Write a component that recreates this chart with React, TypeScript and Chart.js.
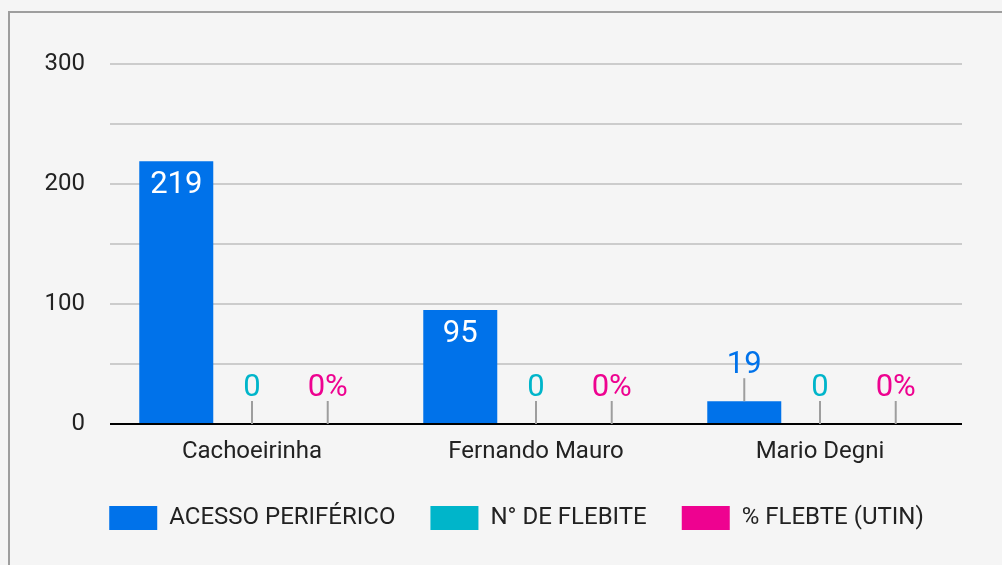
import React, { useEffect, useRef } from "react";
import { Chart, registerables } from "chart.js";

Chart.register(...registerables);

const categories = ["Cachoeirinha", "Fernando Mauro", "Mario Degni"];
const acessoPeriferico = [219, 95, 19];
const nFlebite = [0, 0, 0];
const pctFlebite = [0, 0, 0];
const seriesNames = ["ACESSO PERIFÉRICO", "N° DE FLEBITE", "% FLEBTE (UTIN)"];
const seriesColors = ["#0072EA", "#00B5CA", "#EE0290"];
const yTickLabels = [0, 100, 200, 300];

const dataLabels = {
  id: "dataLabels",
  afterDatasetsDraw(chart: any) {
    const ctx = chart.ctx;
    chart.data.datasets.forEach((ds: any, i: number) => {
      const meta = chart.getDatasetMeta(i);
      meta.data.forEach((bar: any, j: number) => {
        const v = ds.data[j];
        const text = i === 2 ? `${v}%` : String(v);
        const { x, y, base } = bar.getProps(["x", "y", "base"], true);
        ctx.save();
        ctx.font = "31px Roboto";
        ctx.textAlign = "center";
        ctx.textBaseline = "middle";
        if (base - y > 60) {
          ctx.fillStyle = "#ffffff";
          ctx.fillText(text, x, y + 24);
        } else {
          ctx.strokeStyle = "#9e9e9e";
          ctx.lineWidth = 2;
          ctx.beginPath();
          ctx.moveTo(x, y);
          ctx.lineTo(x, y - 23);
          ctx.stroke();
          ctx.fillStyle = seriesColors[i];
          ctx.fillText(text, x, y - 36);
        }
        ctx.restore();
      });
    });
  },
};

export default function App() {
  const ref = useRef<HTMLCanvasElement>(null);

  useEffect(() => {
    document.documentElement.style.background = "#f5f5f5";
    document.body.style.background = "#f5f5f5";
    document.body.style.overflow = "hidden";
    Chart.defaults.font.family = "Roboto";
    const values = [acessoPeriferico, nFlebite, pctFlebite];
    const chart = new Chart(ref.current as HTMLCanvasElement, {
      type: "bar",
      data: {
        labels: categories,
        datasets: values.map((d, i) => ({
          label: seriesNames[i],
          data: d,
          backgroundColor: seriesColors[i],
          borderWidth: 0,
          categoryPercentage: 0.8,
          barPercentage: 0.977,
          yAxisID: "y",
        })),
      },
      options: {
        responsive: false,
        animation: false,
        layout: { padding: { left: 32, right: 0, top: 51, bottom: 0 } },
        plugins: {
          tooltip: { enabled: false },
          legend: {
            position: "bottom",
            labels: {
              color: "#222222",
              font: { size: 24, family: "Roboto" },
              boxWidth: 48,
              boxHeight: 24,
              padding: 35,
            },
          },
        },
        scales: {
          x: {
            grid: { display: false, drawTicks: false },
            border: { display: false },
            ticks: { color: "#222222", font: { size: 24, family: "Roboto" }, padding: 14 },
            afterFit: (scale: any) => {
              scale.height = 47;
            },
          },
          y: {
            position: "left",
            min: 0,
            max: 300,
            grid: {
              drawTicks: false,
              lineWidth: 2,
              color: (c: any) => (c.tick && c.tick.value === 0 ? "#000000" : "#cccccc"),
            },
            border: { display: false },
            ticks: {
              stepSize: 50,
              padding: 25,
              color: "#222222",
              font: { size: 24, family: "Roboto" },
              callback: (v: any) => (yTickLabels.includes(Number(v)) ? String(v) : ""),
            },
            afterFit: (scale: any) => {
              scale.width = 68;
            },
          },
          y2: {
            type: "linear",
            position: "right",
            min: 0,
            max: 300,
            grid: { display: false, drawTicks: false },
            border: { display: false },
            ticks: { display: false },
            afterFit: (scale: any) => {
              scale.width = 29;
            },
          },
        },
      },
      plugins: [dataLabels],
    });
    return () => chart.destroy();
  }, []);

  return (
    <div
      style={{
        position: "absolute",
        left: 8,
        top: 11,
        width: 1100,
        height: 700,
        border: "2px solid #9e9e9e",
        background: "#f5f5f5",
      }}
    >
      <canvas ref={ref} width={981} height={527} style={{ display: "block" }} />
    </div>
  );
}
